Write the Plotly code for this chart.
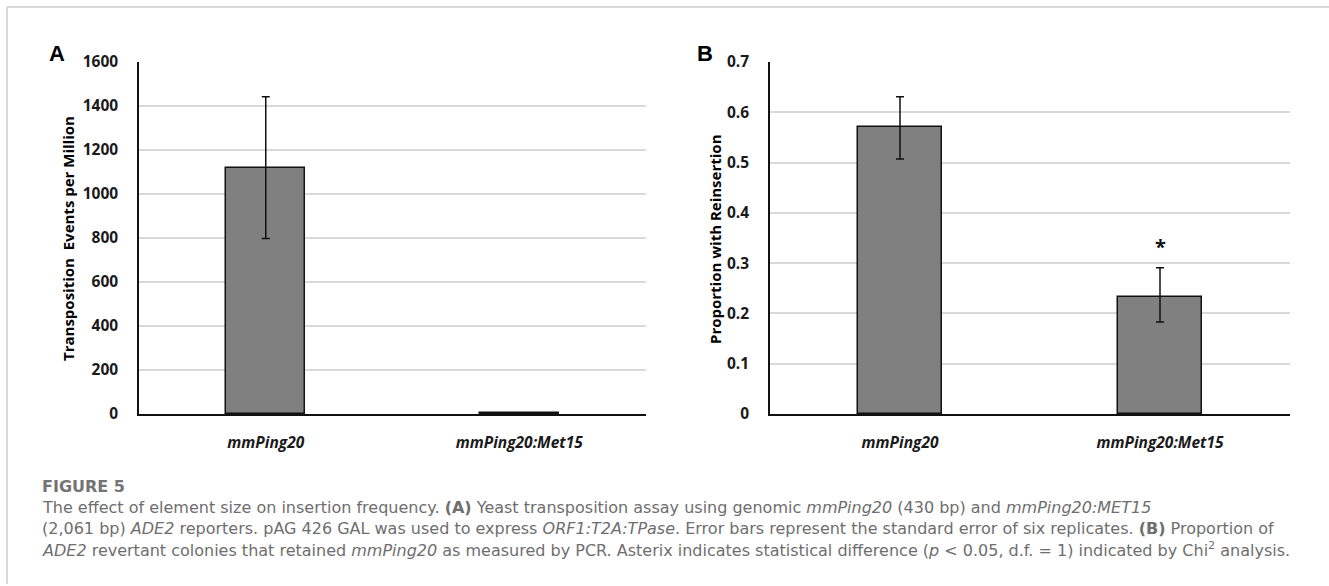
import plotly.graph_objects as go

# ---- data ----
categories = ["<i>mmPing20</i>", "<i>mmPing20:Met15</i>"]
a_values = [1120, 5]
a_err_plus = [322, 0]
a_err_minus = [322, 0]
b_values = [0.570, 0.233]
b_err_plus = [0.061, 0.058]
b_err_minus = [0.063, 0.050]
a_ticks = [0, 200, 400, 600, 800, 1000, 1200, 1400, 1600]
b_ticks = [0, 0.1, 0.2, 0.3, 0.4, 0.5, 0.6, 0.7]
star_y = 0.334

W, H = 1329, 586
BAR = "#808080"
TICKFONT = dict(family="Open Sans", size=15.5, color="#1a1a1a")


def py(px):
    return (H - px) / H


def pxx(px):
    return px / W


fig = go.Figure()
fig.add_trace(go.Bar(
    x=categories, y=a_values, xaxis="x", yaxis="y", width=0.31,
    marker=dict(color=BAR, line=dict(color="#111111", width=1.5)),
    error_y=dict(type="data", array=a_err_plus, arrayminus=a_err_minus,
                 color="#111111", thickness=1.5, width=4),
    showlegend=False, hoverinfo="skip"))
fig.add_trace(go.Bar(
    x=categories, y=b_values, xaxis="x2", yaxis="y2", width=0.32,
    marker=dict(color=BAR, line=dict(color="#111111", width=1.5)),
    error_y=dict(type="data", array=b_err_plus, arrayminus=b_err_minus,
                 color="#111111", thickness=1.5, width=4),
    showlegend=False, hoverinfo="skip"))

top_px, zero_px = 62, 414
ydom = [py(zero_px), py(top_px)]

xcommon = dict(showline=True, linecolor="#111111", linewidth=1.5, showgrid=False,
               ticks="", tickfont=dict(family="Open Sans", size=15.5, color="#1a1a1a"),
               ticklabelstandoff=14, fixedrange=True, automargin=False)
ycommon = dict(showline=True, linecolor="#111111", linewidth=1.5, showgrid=True,
               gridcolor="#d9d9d9", gridwidth=1.5, zeroline=False, ticks="",
               tickfont=TICKFONT, ticklabelstandoff=16, fixedrange=True, automargin=False)

fig.update_layout(
    width=W, height=H, margin=dict(l=0, r=0, t=0, b=0, pad=0, autoexpand=False),
    paper_bgcolor="white", plot_bgcolor="white", bargap=0,
    xaxis=dict(domain=[pxx(139), pxx(646)], anchor="y", **xcommon),
    yaxis=dict(domain=ydom, anchor="x", range=[0, 1600], tickvals=a_ticks,
               ticktext=[f"<b>{t}</b>" for t in a_ticks], **ycommon),
    xaxis2=dict(domain=[pxx(770), pxx(1290)], anchor="y2", **xcommon),
    yaxis2=dict(domain=ydom, anchor="x2", range=[0, 0.7], tickvals=b_ticks,
                ticktext=[f"<b>{t:g}</b>" for t in b_ticks], **ycommon),
)
fig.update_xaxes(tickvals=categories, ticktext=[f"<b>{c}</b>" for c in categories])

ann = []


def add(text, x, y, font, **kw):
    d = dict(text=text, x=x, y=y, xref="paper", yref="paper", showarrow=False,
             xanchor="center", yanchor="middle", font=font)
    d.update(kw)
    ann.append(d)


LETTER = dict(family="Liberation Sans", size=22, color="#000")
add("<b>A</b>", pxx(57), py(53), LETTER)
add("<b>B</b>", pxx(705), py(53), LETTER)
TITLE = dict(family="Open Sans", size=15, color="#000")
add("<b>Transposition  Events per Million</b>", pxx(68), py(239), TITLE, textangle=-90)
add("<b>Proportion with Reinsertion</b>", pxx(715), py(239), TITLE, textangle=-90)
ann.append(dict(text="<b>*</b>", x=categories[1], y=star_y, xref="x2", yref="y2",
                showarrow=False, xanchor="center", yanchor="middle",
                font=dict(family="Open Sans", size=20, color="#111")))

CAP = dict(family="DejaVu Sans", size=16, color="#6e6e6e")
add("<b>FIGURE 5</b>", pxx(40), py(486), dict(family="DejaVu Sans", size=16, color="#747474"),
    xanchor="left")
lines = [
    "The effect of element size on insertion frequency. <b>(A)</b> Yeast transposition assay using genomic <i>mmPing20</i> (430 bp) and <i>mmPing20:MET15</i>",
    "(2,061 bp) <i>ADE2</i> reporters. pAG 426 GAL was used to express <i>ORF1:T2A:TPase</i>. Error bars represent the standard error of six replicates. <b>(B)</b> Proportion of",
    "<i>ADE2</i> revertant colonies that retained <i>mmPing20</i> as measured by PCR. Asterix indicates statistical difference (<i>p</i> &lt; 0.05, d.f. = 1) indicated by Chi<sup>2</sup> analysis.",
]
for i, t in enumerate(lines):
    add(t, pxx(40), py(507 + 21 * i), CAP, xanchor="left")
fig.update_layout(annotations=ann)

fig.update_layout(shapes=[
    dict(type="line", xref="paper", yref="paper", x0=pxx(7), x1=1, y0=py(7), y1=py(7),
         line=dict(color="#d9d9d9", width=2)),
    dict(type="line", xref="paper", yref="paper", x0=pxx(7), x1=pxx(7), y0=py(7), y1=py(584),
         line=dict(color="#d9d9d9", width=2)),
])

fig.write_html("out.html")
